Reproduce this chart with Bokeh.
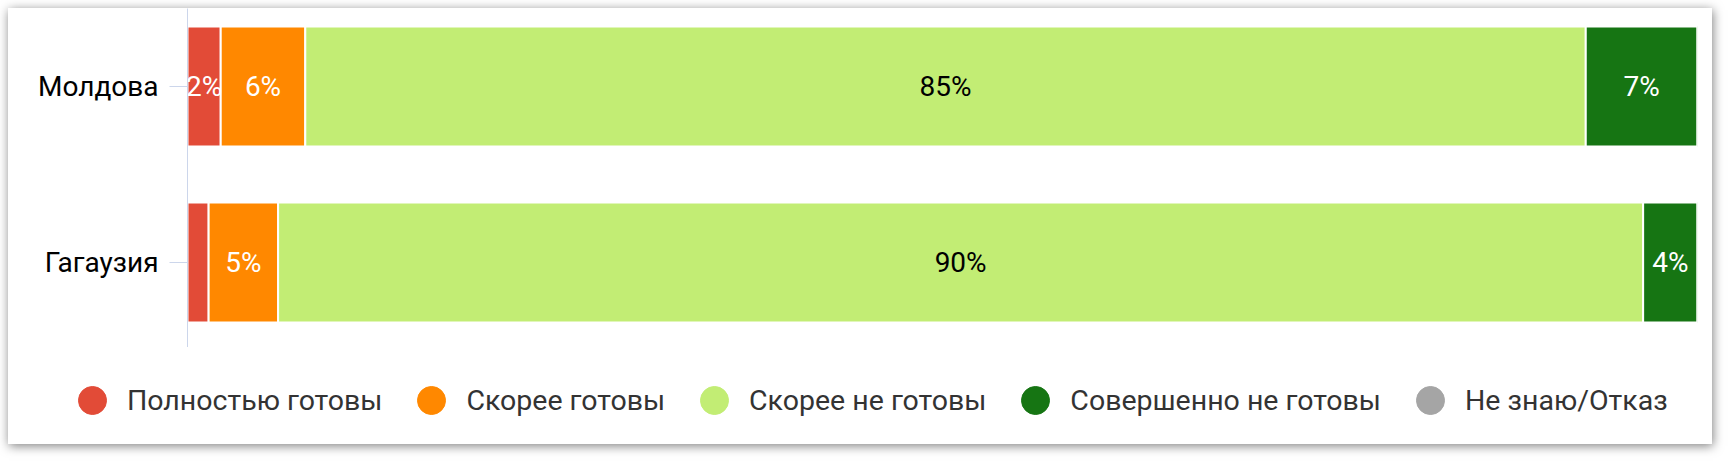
from bokeh.plotting import figure
from bokeh.layouts import column
from bokeh.models import ColumnDataSource, Range1d, FixedTicker, Legend, LegendItem
from bokeh.core.properties import value
from bokeh.embed import file_html
from bokeh.resources import INLINE

# data (percent of respondents)
regions = ["Молдова", "Гагаузия"]
series = ["Полностью готовы", "Скорее готовы", "Скорее не готовы",
          "Совершенно не готовы", "Не знаю/Отказ"]
fully_ready = [2.2, 1.4]
rather_ready = [5.6, 4.6]
rather_not_ready = [84.8, 90.4]
not_ready = [7.4, 3.6]
dont_know = [0.0, 0.0]

colors = ["#e24b37", "#ff8800", "#c2ed74", "#167513", "#a5a5a5"]
label_colors = ["white", "white", "black", "white", "white"]
FONT = "Roboto"

values = [fully_ready, rather_ready, rather_not_ready, not_ready, dont_know]
keys = ["s%d" % i for i in range(len(series))]

# Moldova on top
ypos = [len(regions) - 1 - i for i in range(len(regions))]
data = {"y": ypos}
for k, v in zip(keys, values):
    data[k] = v
source = ColumnDataSource(data)

# data labels in the middle of each segment (tiny ones are hidden)
lx, ly, lt, lc = [], [], [], []
for j, y in enumerate(ypos):
    left = 0.0
    for i, v in enumerate(values):
        if v[j] >= 2:
            lx.append(left + v[j] / 2)
            ly.append(y)
            lt.append("%d%%" % round(v[j]))
            lc.append(label_colors[i])
        left += v[j]
labels = ColumnDataSource(dict(x=lx, y=ly, text=lt, color=lc))

p = figure(width=1704, height=339, x_range=Range1d(0, 100), y_range=Range1d(-0.483, 1.443),
           x_axis_location=None, output_backend="svg", toolbar_location=None,
           min_border_left=179, min_border_right=15, min_border_top=0, min_border_bottom=0,
           background_fill_color="white", border_fill_color="white",
           outline_line_color=None, frame_align=False)

p.hbar_stack(keys, y="y", height=0.682, color=colors, line_color="white", line_width=2,
             source=source)

p.text(x="x", y="y", text="text", text_color="color", source=labels,
       text_align="center", text_baseline="middle",
       text_font=value(FONT), text_font_size="28px")

# axis styling
p.xgrid.visible = False
p.ygrid.visible = False
p.yaxis.ticker = FixedTicker(ticks=ypos)
p.yaxis.major_label_overrides = {y: name for y, name in zip(ypos, regions)}
p.yaxis.axis_line_color = "#ccd6eb"
p.yaxis.major_tick_line_color = "#ccd6eb"
p.yaxis.major_tick_out = 18
p.yaxis.major_tick_in = 0
p.yaxis.minor_tick_line_color = None
p.yaxis.major_label_standoff = 11
p.yaxis.major_label_text_font = FONT
p.yaxis.major_label_text_font_size = "28px"
p.yaxis.major_label_text_color = "#000000"

# legend strip under the bars, with round markers
lg = figure(width=1704, height=97, x_range=Range1d(0, 1), y_range=Range1d(0, 1),
            x_axis_location=None, y_axis_location=None, output_backend="svg",
            toolbar_location=None, min_border=0, background_fill_color="white",
            border_fill_color="white", outline_line_color=None, frame_align=False)
lg.xgrid.visible = False
lg.ygrid.visible = False
items = []
for name, c in zip(series, colors):
    # one hidden point (outside the range) so the legend glyph gets drawn
    r = lg.scatter(x=[-1], y=[-1], marker="circle", size=28, color=c)
    items.append(LegendItem(label=name, renderers=[r]))
legend = Legend(items=items, orientation="horizontal", location=(49, 9),
                glyph_width=70, glyph_height=70, label_standoff=0, spacing=14,
                padding=0, margin=0, border_line_alpha=0, background_fill_alpha=0,
                label_text_font=FONT, label_text_font_size="28.5px",
                label_text_color="#333333")
lg.add_layout(legend, "center")

card = column(p, lg, spacing=0)
card.styles = {"box-shadow": "1px 2px 10px rgba(0,0,0,0.5)",
               "margin": "8px 0px 0px 8px"}

open("out.html", "w").write(file_html(card, INLINE))
